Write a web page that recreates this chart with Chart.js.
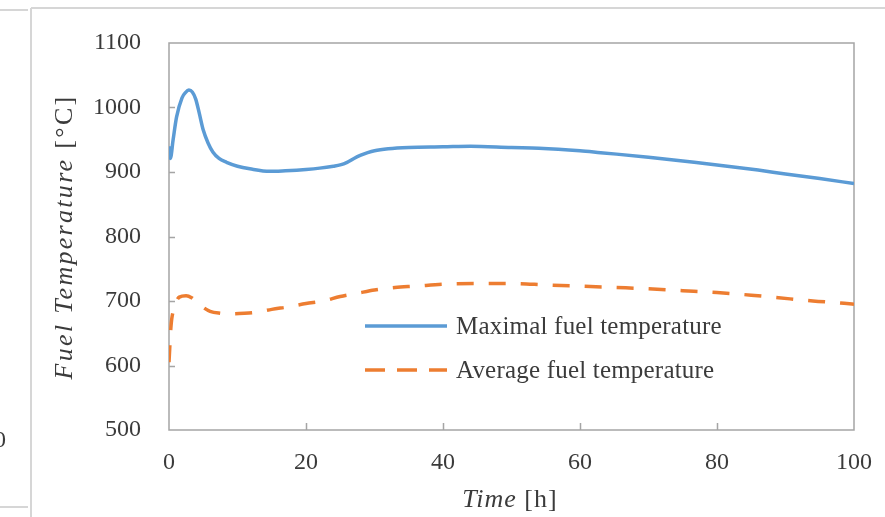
<!DOCTYPE html>
<html>
<head>
<meta charset="utf-8">
<script src="https://cdn.jsdelivr.net/npm/chart.js@4"></script>
<style>
  html, body { margin: 0; padding: 0; background: #ffffff; }
  #wrap { position: relative; width: 885px; height: 517px; }
</style>
</head>
<body>
<div id="wrap"><canvas id="c" width="885" height="517"></canvas></div>
<script>
// ---- Data ----
const maxTime = [0, 0.2, 0.6, 1.1, 1.9, 2.4, 2.9, 3.4, 3.9, 4.4, 5, 5.7, 6.4, 7.3, 8.4, 10, 11.8, 14.7, 17, 20, 22, 24, 25, 26, 27, 28, 29, 30, 32, 35, 40, 44, 50, 54, 60, 63, 70, 75, 80, 86, 90, 95, 100];
const maxTemp = [940, 921, 950, 985, 1015, 1023, 1027, 1024, 1013, 992, 965, 945, 931, 921, 915, 909, 905, 901, 902, 904, 906, 909, 911, 915, 921, 926, 930, 933, 936, 938, 939, 940, 938, 937, 933, 930, 923, 917, 911, 903, 897, 890, 882];

const avgTime = [0, 0.3, 0.8, 1.5, 2.5, 3.3, 4.2, 5, 6, 7.5, 9, 11, 13, 15, 17.5, 20, 22.5, 25, 27.5, 30, 33, 36, 40, 45, 50, 55, 60, 65, 70, 75, 80, 85, 89, 94, 98, 100];
const avgTemp = [605, 662, 690, 706, 708, 705, 697, 690, 684, 681, 680, 681, 683, 687, 691, 696, 700, 707, 712, 717, 721, 723, 726, 727, 727, 725, 723, 721, 719, 716, 713, 709, 705, 700, 697, 695];

const seriesLabels = ["Maximal fuel temperature", "Average fuel temperature"];
const yTicks = [500, 600, 700, 800, 900, 1000, 1100];
const xTicks = [0, 20, 40, 60, 80, 100];

const FONT = "'Liberation Serif', 'DejaVu Serif', serif";
const TEXT = "#3b3b3b";

const toPts = (xs, ys) => xs.map((x, i) => ({ x: x, y: ys[i] }));

const decor = {
  id: 'decor',
  beforeDatasetsDraw(chart) {
    const ctx = chart.ctx, a = chart.chartArea;
    ctx.save();
    ctx.strokeStyle = '#a5a5a5';
    ctx.lineWidth = 1.5;
    ctx.strokeRect(a.left, a.top, a.right - a.left, a.bottom - a.top);
    ctx.restore();
  },
  afterDraw(chart) {
    const ctx = chart.ctx, a = chart.chartArea;
    const xs = chart.scales.x, ys = chart.scales.y;
    ctx.save();
    // outer frame lines
    ctx.strokeStyle = '#d6d6d6';
    ctx.lineWidth = 2;
    ctx.beginPath();
    ctx.moveTo(31, 8); ctx.lineTo(885, 8);
    ctx.moveTo(31, 8); ctx.lineTo(31, 517);
    ctx.moveTo(0, 10); ctx.lineTo(28, 10);
    ctx.moveTo(0, 507); ctx.lineTo(28, 507);
    ctx.stroke();
    // cut-off neighbouring label
    ctx.fillStyle = TEXT;
    ctx.font = "24px " + FONT;
    ctx.textAlign = 'right';
    ctx.textBaseline = 'middle';
    ctx.fillText('0', 6, 441);

    // inward ticks
    ctx.strokeStyle = '#a5a5a5';
    ctx.lineWidth = 1.5;
    ctx.beginPath();
    yTicks.slice(1, -1).forEach(v => {
      const y = Math.round(ys.getPixelForValue(v)) + 0.5;
      ctx.moveTo(a.left, y); ctx.lineTo(a.left + 6, y);
    });
    xTicks.slice(1, -1).forEach(v => {
      const x = Math.round(xs.getPixelForValue(v)) + 0.5;
      ctx.moveTo(x, a.bottom); ctx.lineTo(x, a.bottom - 7);
    });
    ctx.stroke();

    // legend inside plot
    const ds = chart.data.datasets;
    const rows = [326, 370];
    ds.forEach((d, i) => {
      ctx.save();
      ctx.strokeStyle = d.borderColor;
      ctx.lineWidth = d.borderWidth;
      ctx.setLineDash(i === 1 ? [20, 12] : []);
      ctx.beginPath();
      ctx.moveTo(365, rows[i]); ctx.lineTo(447, rows[i]);
      ctx.stroke();
      ctx.restore();
      ctx.save();
      ctx.fillStyle = TEXT;
      ctx.font = "25px " + FONT;
      ctx.letterSpacing = '0.2px';
      ctx.textAlign = 'left';
      ctx.textBaseline = 'middle';
      ctx.fillText(d.label, 456, rows[i] + 1);
      ctx.restore();
    });

    // axis titles (mixed italic / regular)
    const drawMixed = (parts, cx, cy, rot, ls) => {
      ctx.save();
      ctx.translate(cx, cy);
      ctx.rotate(rot);
      ctx.letterSpacing = ls;
      let total = 0;
      parts.forEach(p => { ctx.font = p.f; total += ctx.measureText(p.t).width; });
      let x = -total / 2;
      ctx.textAlign = 'left';
      ctx.textBaseline = 'middle';
      ctx.fillStyle = TEXT;
      parts.forEach(p => { ctx.font = p.f; ctx.fillText(p.t, x, 0); x += ctx.measureText(p.t).width; });
      ctx.restore();
    };
    drawMixed([{ t: 'Fuel Temperature ', f: "italic 26px " + FONT }, { t: '[\u00B0C]', f: "26px " + FONT }], 65, 237, -Math.PI / 2, '2.3px');
    drawMixed([{ t: 'Time', f: "italic 26px " + FONT }, { t: ' [h]', f: "26px " + FONT }], 510, 500, 0, '1px');
    ctx.restore();
  }
};

new Chart(document.getElementById('c'), {
  type: 'line',
  data: {
    datasets: [
      {
        label: seriesLabels[0],
        data: toPts(maxTime, maxTemp),
        borderColor: '#5b9bd5',
        backgroundColor: '#5b9bd5',
        borderWidth: 3.5,
        pointRadius: 0,
        cubicInterpolationMode: 'monotone',
        fill: false
      },
      {
        label: seriesLabels[1],
        data: toPts(avgTime, avgTemp),
        borderColor: '#ed7d31',
        backgroundColor: '#ed7d31',
        borderWidth: 3.5,
        borderDash: [17, 15],
        pointRadius: 0,
        cubicInterpolationMode: 'monotone',
        fill: false
      }
    ]
  },
  options: {
    responsive: false,
    animation: false,
    layout: { padding: { left: 0, top: 43, right: 31, bottom: 0 } },
    plugins: { legend: { display: false }, tooltip: { enabled: false }, title: { display: false } },
    scales: {
      x: {
        type: 'linear',
        min: 0, max: 100,
        afterFit(s) { s.height = 87; s.paddingLeft = 0; s.paddingRight = 0; },
        afterBuildTicks(s) { s.ticks = xTicks.map(v => ({ value: v })); },
        grid: { display: false, drawTicks: false },
        border: { display: false },
        ticks: { color: TEXT, font: { family: FONT, size: 24 }, padding: 18, maxRotation: 0, callback: v => String(v) }
      },
      y: {
        type: 'linear',
        min: 500, max: 1100,
        afterFit(s) { s.width = 169; s.paddingTop = 0; s.paddingBottom = 0; },
        afterBuildTicks(s) { s.ticks = yTicks.map(v => ({ value: v })); },
        grid: { display: false, drawTicks: false },
        border: { display: false },
        ticks: { color: TEXT, font: { family: FONT, size: 24 }, padding: 28, callback: v => String(v) }
      }
    }
  },
  plugins: [decor]
});
</script>
</body>
</html>
